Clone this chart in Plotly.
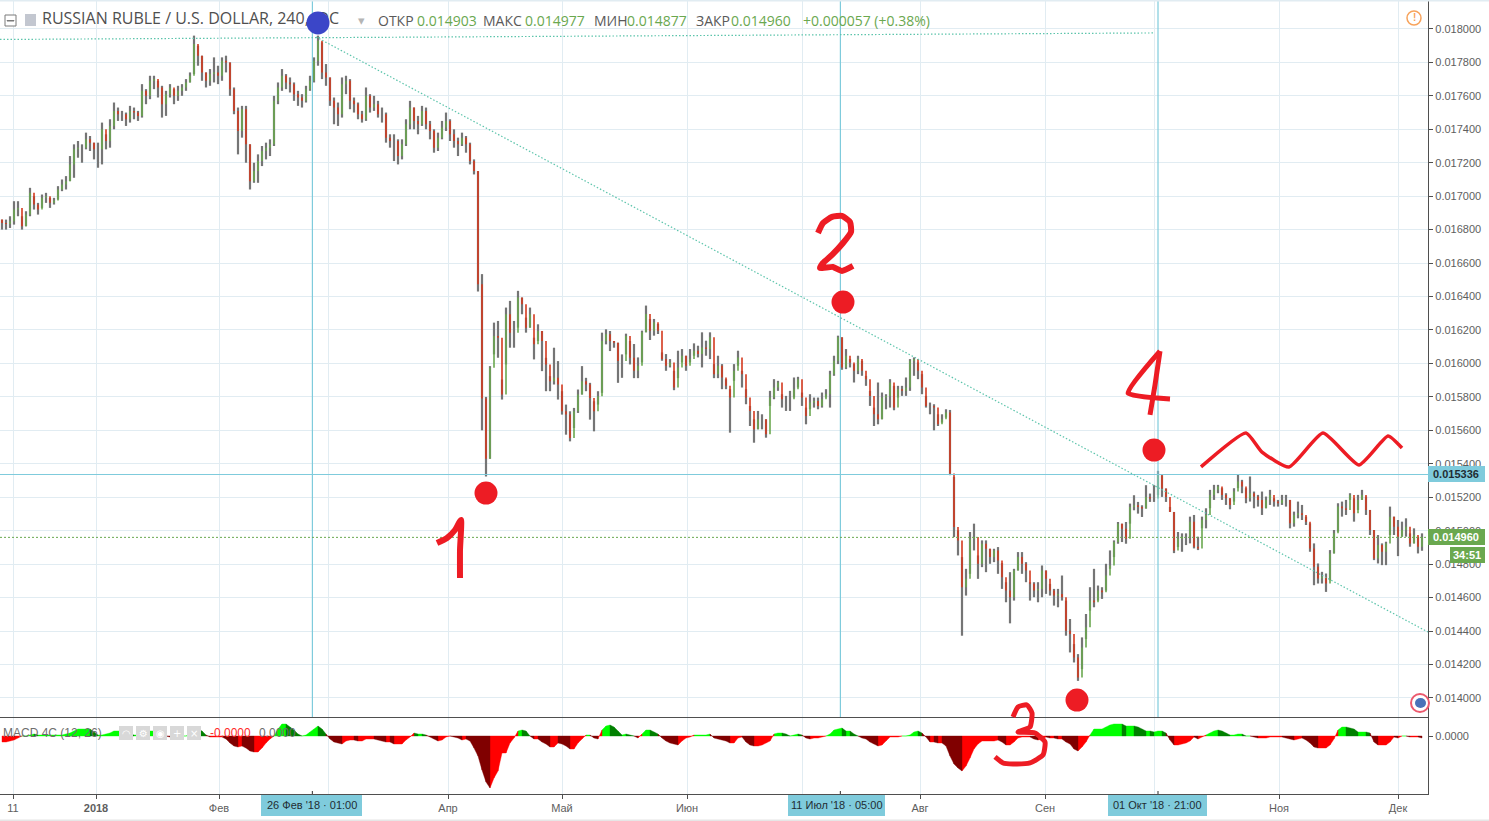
import plotly.graph_objects as go

W, H = 1489, 821
PLOT_R = 1428

# OHLC-style session data, prices in millionths of a dollar; one entry per sampled bar
closes = [
16840,16834,16850,16920,16930,16820,16890,17020,16950,16920,16990,17000,16960,16974,17040,17070,17090,17190,17280,17290,
17290,17340,17320,17280,17280,17400,17330,17420,17510,17490,17490,17460,17510,17500,17480,17630,17600,17690,17700,17650,
17550,17610,17650,17600,17630,17650,17680,17720,17910,17840,17740,17690,17730,17740,17720,17810,17800,17640,17510,17390,
17520,17310,17090,17150,17210,17270,17290,17310,17570,17650,17720,17680,17670,17610,17590,17570,17640,17690,17810,17930,
17740,17710,17570,17530,17490,17670,17690,17570,17550,17490,17460,17600,17530,17550,17490,17490,17350,17330,17330,17240,
17310,17430,17530,17450,17430,17510,17430,17390,17290,17350,17410,17450,17370,17330,17310,17350,17310,17210,17150,
16474,15790,15430,15974,16164,16154,15814,16294,16184,16184,16394,16354,16214,16294,16114,16194,16134,15994,15894,15914,
15874,15714,15694,15554,15714,15814,15894,15874,15794,15714,15804,16134,16174,16134,16124,16014,16014,16164,16034,
15956,15986,16186,16296,16196,16246,16196,16026,15986,16006,15856,15976,16046,15986,16026,16076,16056,16096,16086,16156,
15936,15986,15916,15866,15796,15956,16036,15936,15796,15716,15606,15666,15666,15576,15796,15856,15886,15786,15786,15786,
15846,15906,15796,15686,15766,15776,15746,15786,15816,15936,16016,16156,15976,16046,16006,15956,16026,15956,15906,15806,
15696,15666,15796,15806,15886,15736,15846,15836,15856,16016,16026,15956,15856,15746,15746,15736,15636,15666,15706,
15342,15022,14942,14662,14712,14952,14962,14802,14922,14892,14842,14882,14822,14722,14642,14602,14762,14842,14802,14762,
14682,14642,14652,14762,14712,14642,14612,14622,14602,14402,14382,14242,14122,14302,14422,14582,14572,14642,14632,14732,
14792,14932,15042,15012,14952,15142,15152,15142,15132,15202,15192,15192,15332,15252,15202,15112,14882,14952,
14964,14964,15054,14904,14894,15064,15094,15214,15244,15264,15214,15194,15154,15234,15294,15264,15194,15224,15204,15184,
15134,15184,15214,15174,15164,15184,15184,15044,15094,15104,15094,15054,14894,14784,14714,14724,14684,14864,14984,15144,
15134,15124,15214,15104,15184,15214,15124,15004,14834,14914,14874,14924,15084,15024,14964,15004,15024,14924,14974,14904,14960]
highs = [
16860,16860,16880,16970,16970,16880,16910,17050,17000,16960,17010,17020,16990,16990,17060,17100,17120,17240,17310,17330,
17310,17380,17360,17320,17320,17440,17370,17460,17560,17530,17510,17500,17540,17530,17510,17670,17640,17720,17720,17690,
17660,17630,17670,17640,17660,17670,17700,17740,17960,17900,17840,17740,17760,17830,17780,17830,17840,17800,17650,17530,
17540,17540,17310,17200,17250,17300,17320,17340,17600,17680,17760,17730,17710,17680,17630,17610,17660,17720,17830,17960,
17920,17790,17710,17590,17560,17710,17720,17700,17590,17560,17510,17650,17610,17600,17570,17530,17500,17370,17370,17340,
17340,17460,17570,17530,17480,17540,17530,17450,17400,17380,17450,17500,17460,17400,17350,17380,17360,17320,17220,
17150,16534,15800,15984,16244,16254,15904,16334,16374,16254,16434,16394,16274,16334,16154,16234,16194,16034,15924,16094,
16014,15834,15754,15714,15734,15844,15984,15914,15884,15774,15834,16184,16204,16194,16134,16124,16054,16178,16134,
16116,16036,16196,16346,16266,16266,16236,16066,16056,16026,15956,16076,16086,16046,16086,16120,16106,16186,16136,16186,
15996,16046,15996,15906,15846,15996,16076,15956,15846,15746,15666,15716,15696,15666,15836,15906,15896,15816,15806,15836,
15916,15920,15826,15736,15816,15796,15796,15826,15846,15956,16046,16166,16156,16086,16026,15996,16046,16016,15926,15836,
15736,15886,15826,15816,15906,15866,15866,15866,15916,16026,16036,16006,15936,15806,15766,15756,15696,15696,15726,
15722,15322,15002,14842,14772,14992,15042,14852,14942,14942,14892,14892,14902,14806,14692,14752,14772,14872,14872,14812,
14692,14692,14692,14792,14762,14682,14652,14652,14732,14582,14472,14322,14262,14362,14502,14662,14772,14672,14662,14802,
14882,14942,15052,15042,15052,15162,15212,15172,15152,15272,15222,15272,15358,15332,15252,15142,15112,14992,
14984,14984,15084,15094,14964,15084,15134,15244,15274,15274,15254,15224,15194,15254,15334,15304,15254,15324,15234,15214,
15234,15204,15244,15194,15184,15214,15214,15184,15114,15174,15154,15084,15044,14924,14804,14754,14744,14884,15004,15164,
15174,15184,15224,15194,15214,15244,15204,15124,15004,14974,14924,14934,15144,15084,15064,15054,15074,14984,15014,14964,14984]
lows = [
16800,16800,16810,16830,16880,16800,16820,16880,16920,16890,16930,16960,16930,16950,16980,17030,17040,17090,17110,17230,
17200,17280,17270,17220,17170,17190,17280,17290,17400,17450,17450,17420,17440,17460,17450,17470,17550,17580,17640,17590,
17470,17480,17590,17550,17570,17600,17630,17680,17730,17780,17690,17650,17660,17680,17670,17690,17740,17600,17490,17250,
17350,17200,17040,17080,17080,17180,17220,17240,17300,17550,17630,17640,17620,17570,17540,17530,17560,17630,17680,17780,
17700,17660,17540,17430,17420,17470,17610,17520,17500,17460,17440,17450,17500,17510,17470,17440,17320,17290,17210,17190,
17220,17300,17400,17400,17370,17420,17400,17340,17260,17270,17340,17390,17330,17290,17240,17300,17260,17190,17130,
16430,15600,15324,15430,16054,16034,15784,15994,16094,16094,16214,16294,16184,16214,16024,16134,15954,15834,15834,15874,
15784,15694,15574,15534,15614,15704,15814,15834,15664,15594,15754,15824,16114,16074,16094,15884,15914,16054,15994,
15912,15912,16006,16186,16140,16166,16176,16016,15956,15976,15840,15912,16006,15956,16006,16046,16036,15976,16046,16026,
15912,15912,15846,15846,15586,15896,15986,15856,15756,15626,15526,15606,15606,15556,15746,15786,15836,15736,15716,15716,
15796,15856,15746,15636,15726,15736,15726,15736,15796,15736,15926,15996,15962,15966,15976,15886,15936,15926,15866,15746,
15626,15636,15666,15726,15736,15720,15796,15806,15806,15836,15926,15906,15816,15736,15696,15600,15626,15646,15676,
15332,14962,14852,14372,14612,14742,14882,14712,14782,14752,14802,14812,14742,14652,14572,14446,14582,14762,14742,14692,
14582,14602,14572,14602,14622,14612,14552,14542,14582,14372,14272,14212,14102,14172,14352,14522,14542,14582,14592,14642,
14772,14842,14922,14932,14922,15042,15122,15102,15082,15132,15172,15172,15212,15202,15172,15112,14866,14902,
14874,14914,14924,14894,14884,15014,15014,15134,15184,15224,15184,15154,15128,15174,15254,15224,15164,15174,15134,15144,
15094,15134,15154,15144,15144,15154,15144,15014,15024,15074,15064,15034,14874,14674,14684,14684,14634,14704,14864,14994,
15084,15094,15184,15054,15124,15184,15094,14974,14824,14804,14794,14794,14974,14974,14848,14964,14964,14904,14924,14864,14880]
first_open = 16860

# MACD 4C histogram, in chart units (zero at the 0.0000 tick)
macd = [
-6,-6,-5,-4,-2,0,0,1,2,1,1,1,1,1,1,1,2,3,5,7,7,7,7,4,1,1,2,3,5,5,5,4,2,1,1,3,4,5,5,4,3,0,-1,0,-1,0,0,2,4,7,5,1,-1,-1,-1,-1,-3,-7,-10,-11,
-10,-12,-15,-16,-16,-12,-7,-3,0,7,12,12,9,6,2,0,1,4,7,10,7,2,-3,-6,-7,-8,-5,-4,-4,-5,-5,-3,-3,-3,-4,-5,-6,-6,-8,-8,-8,-4,-1,3,2,2,1,-1,-3,-5,-4,-1,0,-1,-2,-4,-3,-5,-12,
-20,-34,-46,-52,-42,-35,
-17,-17,-7,-2,5,6,5,0,-3,-3,-6,-8,-11,-11,-7,-8,-10,-13,-13,-7,-3,1,1,-2,-3,6,10,11,9,5,1,2,1,0,-2,2,6,6,4,2,-2,-5,-7,-8,-9,-5,-2,-1,1,1,1,1,2,-2,-3,-4,-5,-7,-7,-2,-1,-6,-9,-10,-10,-9,-7,-5,2,3,3,2,0,1,2,1,-2,-3,-2,-2,-1,0,2,6,7,8,5,5,2,0,-2,-3,-6,-8,-10,-9,-5,-1,-1,-1,0,0,1,4,5,3,-1,-6,-6,-7,-7,-10,-20,-28,-32,-35,-30,-22,-13,-8,-5,-5,-5,-5,-4,
-6,-9,-9,-6,-2,-1,-1,-1,-3,-4,-3,-1,-2,-2,-3,-3,-6,-8,-13,-15,-11,-6,1,7,7,7,9,11,12,12,12,10,10,10,9,7,5,5,4,5,5,3,-4,-9,-9,-8,-7,-5,-1,-3,-1,1,3,5,6,5,3,1,1,2,2,0,0,-1,-2,-2,-2,-1,-1,-1,-1,-2,-3,-4,-3,-2,-4,-7,-11,-12,-12,-12,-9,-3,6,9,9,8,7,4,4,4,3,-6,-9,-9,-9,-6,-1,-2,0,0,-1,-1,-1,-2]

month_ticks = [2.75, 23.5, 54.25, 81.5, 111.5, 140, 171.25, 200, 229.5, 260.75, 288, 319.25, 349]
month_labels = ["11", "<b>2018</b>", "Фев", "", "Апр", "Май", "Июн", "", "Авг", "Сен", "", "Ноя", "Дек"]
price_ticks = [14000 + 200 * k for k in range(21)]
price_labels = [f"{p/1e6:.6f}" for p in price_ticks]

bar_range = [-0.5, 356.5]
price_range = [13886, 18173]
page_price_range = [13264, 18173]
macd_range = [-58, 18]

# drawn studies
cross_bars = [77.6, 209.6, 289.0]
level_prices = [15336]
last_price = 14960
top_line_bars = [-0.5, 288.0]
top_line_prices = [17937, 17976]
trend_bars = [78.5, 356.5]
trend_prices = [17952, 14394]

# hand-drawn ink
ink_dots_bars = [121, 210.25, 288, 268.75]
ink_dots_prices = [15225, 16367, 15482, 13987]
blue_dot_bar = [79]
blue_dot_price = [18036]
digit1_bars = [108.75, 111.25, 113.25, 114.75, 114.5, 114.5]
digit1_prices = [14926, 14956, 15004, 15064, 14884, 14717]
digit2_bars = [204, 205.25, 207.5, 210, 212, 212.25, 210.25, 207.5, 205.25, 204.5, 207.75, 210, 212.75]
digit2_prices = [16780, 16840, 16876, 16882, 16846, 16786, 16720, 16649, 16601, 16571, 16577, 16553, 16583]
digit3_bars = [252.75, 254, 256.25, 257.5, 257, 254, 258.25, 260.75, 260.25, 257, 252.75, 250.25, 248.25]
digit3_prices = [13886, 13946, 13958, 13910, 13826, 13796, 13790, 13736, 13659, 13611, 13605, 13611, 13647]
digit4_bars = [289.5, 281.5, 292, None, 289.5, 288.25, 287]
digit4_prices = [16074, 15823, 15787, None, 16074, 15871, 15692]
zigzag_bars = [299.75, 311, 315, 321.75, 330.25, 339.25, 346.5, 350]
zigzag_prices = [15381, 15584, 15470, 15381, 15584, 15393, 15566, 15494]

n = len(closes)
if not (n == len(highs) == len(lows) == len(macd) == 356):
    raise SystemExit(f"lengths {n} {len(highs)} {len(lows)} {len(macd)}")

P = lambda v: None if v is None else v / 1e6
bars = list(range(n))
opens = [first_open] + closes[:-1]

wx, wy, ux, uy, dx, dy = [], [], [], [], [], []
for i in bars:
    wx += [i, i, None]
    wy += [P(highs[i]), P(lows[i]), None]
    if closes[i] >= opens[i]:
        ux += [i, i, None]
        uy += [P(opens[i]), P(closes[i]), None]
    else:
        dx += [i, i, None]
        dy += [P(opens[i]), P(closes[i]), None]

# MACD 4C: four colours by sign and direction, one filled band per step
BRIGHT_G, DARK_G, BRIGHT_R, DARK_R = "#00ff00", "#008000", "#ff0000", "#800000"
bands = {BRIGHT_G: ([], []), DARK_G: ([], []), BRIGHT_R: ([], []), DARK_R: ([], [])}
for i in range(n - 1):
    a, b = macd[i], macd[i + 1]
    if b >= 0 and a >= 0:
        c = BRIGHT_G if b >= a else DARK_G
    elif b >= a:
        c = BRIGHT_R
    else:
        c = DARK_R
    xs, ys = bands[c]
    xs += [i, i, i + 1, i + 1, i, None]
    ys += [0, a, b, 0, 0, None]

fig = go.Figure()

GRID = "#e1ecf2"
AXIS = "#4f4f4f"
TEAL = "#7fcbdc"
DOT = "#5cc4ab"
INK = "#ed1c24"
GREEN = "#6aa84f"
RED = "#d4391e"
LABEL = "#5e5e5e"
TICKFONT = dict(family="Liberation Sans", size=11, color=LABEL)

for c, (xs, ys) in bands.items():
    fig.add_trace(go.Scatter(x=xs, y=ys, mode="lines", fill="toself", fillcolor=c, line=dict(color=c, width=0.4),
                             xaxis="x", yaxis="y", hoverinfo="skip", showlegend=False))
for b in cross_bars:
    fig.add_trace(go.Scatter(x=[b, b], y=[macd_range[0], macd_range[0] + 3], mode="lines", line=dict(color=AXIS, width=1.2),
                             xaxis="x", yaxis="y", hoverinfo="skip", showlegend=False))

a2 = dict(xaxis="x2", yaxis="y2", hoverinfo="skip", showlegend=False)
a3 = dict(xaxis="x3", yaxis="y3", hoverinfo="skip", showlegend=False)
ln = lambda c, w, d="solid": dict(color=c, width=w, dash=d)

fig.add_trace(go.Scatter(x=[10], y=[18054 / 1e6], mode="text", text=["RUSSIAN RUBLE / U.S. DOLLAR, 240, IDC"],
                         textposition="middle right", cliponaxis=False,
                         textfont=dict(family="Open Sans", size=16, color="#4f4f4f"), **a2))
fig.add_trace(go.Scatter(x=wx, y=wy, mode="lines", line=ln("#757575", 2.2), **a2))
fig.add_trace(go.Scatter(x=ux, y=uy, mode="lines", line=ln(GREEN, 1.6), **a2))
fig.add_trace(go.Scatter(x=dx, y=dy, mode="lines", line=ln(RED, 1.6), **a2))

for b in cross_bars:
    fig.add_trace(go.Scatter(x=[b, b], y=[P(price_range[0]), P(price_range[1])], mode="lines", line=ln(TEAL, 1.2), **a2))
for p in level_prices:
    fig.add_trace(go.Scatter(x=bar_range, y=[P(p), P(p)], mode="lines", line=ln(TEAL, 1.2), **a2))
fig.add_trace(go.Scatter(x=bar_range, y=[P(last_price), P(last_price)], mode="lines", line=ln(GREEN, 1, "2px,2px"), **a2))
fig.add_trace(go.Scatter(x=top_line_bars, y=[P(v) for v in top_line_prices], mode="lines", line=ln(DOT, 1.2, "1.5px,2px"), **a2))
fig.add_trace(go.Scatter(x=trend_bars, y=[P(v) for v in trend_prices], mode="lines", line=ln(DOT, 1.2, "1.5px,2px"), **a2))

for xs, ys, w in [(digit1_bars, digit1_prices, 6), (digit2_bars, digit2_prices, 6),
                  (digit3_bars, digit3_prices, 5), (digit4_bars, digit4_prices, 5),
                  (zigzag_bars, zigzag_prices, 3.5)]:
    fig.add_trace(go.Scatter(x=xs, y=[P(v) for v in ys], mode="lines", cliponaxis=False,
                             line=dict(color=INK, width=w, shape="spline", smoothing=0.5), connectgaps=False, **a3))
fig.add_trace(go.Scatter(x=ink_dots_bars, y=[P(v) for v in ink_dots_prices], mode="markers", cliponaxis=False,
                         marker=dict(color=INK, size=23, line=dict(width=0)), **a3))
fig.add_trace(go.Scatter(x=blue_dot_bar, y=[P(v) for v in blue_dot_price], mode="markers", cliponaxis=False,
                         marker=dict(color="#3b46c8", size=23, line=dict(width=0)), **a3))


def xp(px):
    return px / W


def yp(py):
    return 1 - py / H


common_x = dict(range=bar_range, tickmode="array", tickvals=month_ticks, showgrid=True, gridcolor=GRID, gridwidth=1,
                zeroline=False, showline=True, linecolor=AXIS, linewidth=1.2)
fig.update_layout(
    width=W, height=H, margin=dict(l=0, r=0, t=0, b=0), paper_bgcolor="white", plot_bgcolor="rgba(0,0,0,0)",
    showlegend=False, hovermode=False,
    xaxis=dict(**common_x, domain=[0, xp(PLOT_R)], anchor="y", ticktext=month_labels, ticks="outside", ticklen=4,
               tickcolor=AXIS, tickfont=TICKFONT, showticklabels=True),
    yaxis=dict(domain=[yp(794), yp(718)], range=macd_range, side="right", anchor="x", tickmode="array",
               tickvals=[0], ticktext=["0.0000"], ticks="outside", ticklen=4, tickcolor=AXIS, tickfont=TICKFONT,
               showgrid=False, zeroline=False, showline=True, linecolor=AXIS, linewidth=1.2),
    xaxis2=dict(**common_x, domain=[0, xp(PLOT_R)], anchor="y2", ticktext=[""] * len(month_ticks), ticks="", showticklabels=False),
    yaxis2=dict(domain=[yp(717), 1], range=[P(price_range[0]), P(price_range[1])], side="right", anchor="x2",
                tickmode="array", tickvals=[P(v) for v in price_ticks], ticktext=price_labels, ticks="outside", ticklen=4,
                tickcolor=AXIS, tickfont=TICKFONT, showgrid=True, gridcolor=GRID, gridwidth=1, zeroline=False,
                showline=True, linecolor=AXIS, linewidth=1.2),
    # full-page axes on the same scale, so the ink can run across both panels
    xaxis3=dict(domain=[0, xp(PLOT_R)], range=bar_range, anchor="y3", visible=False),
    yaxis3=dict(domain=[0, 1], range=[P(page_price_range[0]), P(page_price_range[1])], anchor="x3", visible=False),
)

shapes, notes = [], []


def rect(x0, y0, x1, y1, fill, line=None):
    shapes.append(dict(type="rect", xref="paper", yref="paper", x0=xp(x0), x1=xp(x1), y0=yp(y0), y1=yp(y1),
                       fillcolor=fill, line=dict(color=line or fill, width=1 if line else 0), layer="above"))


def text(px, py, s, color, size=11, anchor="left", family="Liberation Sans"):
    notes.append(dict(xref="paper", yref="paper", x=xp(px), y=yp(py), text=s, showarrow=False, xanchor=anchor,
                      yanchor="middle", font=dict(family=family, size=size, color=color), borderpad=0, borderwidth=0))


# crosshair captions on the time axis
for x0, x1, s in [(261, 362, "26 Фев '18 · 01:00"), (788, 885, "11 Июл '18 · 05:00"), (1108, 1207, "01 Окт '18 · 21:00")]:
    rect(x0, 795, x1, 816, "#7fcbdc")
    text((x0 + x1) / 2, 805, s, "#1f2d33", 11, "center")

# price captions
rect(1428, 466, 1485, 482, "#7fcbdc")
text(1456, 474, "<b>0.015336</b>", "#1f2d33", 11, "center")
rect(1428, 529, 1485, 545, GREEN)
text(1456, 537, "<b>0.014960</b>", "white", 11, "center")
rect(1450, 547, 1485, 563, GREEN)
text(1467, 555, "<b>34:51</b>", "white", 11, "center")

# header
HF = "Open Sans"
text(378, 20, "ОТКР", "#5a5a5a", 14, family=HF)
text(417, 20, "0.014903", GREEN, 14, family=HF)
text(483, 20, "МАКС", "#5a5a5a", 14, family=HF)
text(525, 20, "0.014977", GREEN, 14, family=HF)
text(594, 20, "МИН", "#5a5a5a", 14, family=HF)
text(627, 20, "0.014877", GREEN, 14, family=HF)
text(696, 20, "ЗАКР", "#5a5a5a", 14, family=HF)
text(731, 20, "0.014960", GREEN, 14, family=HF)
text(803, 20, "+0.000057 (+0.38%)", GREEN, 14, family=HF)
text(358, 20, "▾", "#b5b5b5", 13, family="DejaVu Sans")

# header icons
rect(5, 15, 16, 26, "white", "#7a7a7a")
rect(7, 20.5, 14, 21, "#7a7a7a", "#7a7a7a")
rect(25, 14, 36, 26, "#c3c7d0")
shapes.append(dict(type="circle", xref="paper", yref="paper", x0=xp(1407), x1=xp(1421), y0=yp(11), y1=yp(25),
                   line=dict(color="#f7a35c", width=1.5), fillcolor="white", layer="above"))
text(1414, 18, "<b>!</b>", "#f7a35c", 10, "center")
shapes.append(dict(type="circle", xref="paper", yref="paper", x0=xp(1411), x1=xp(1429), y0=yp(694), y1=yp(712),
                   line=dict(color="#ec5a6e", width=2), fillcolor="white", layer="above"))
shapes.append(dict(type="circle", xref="paper", yref="paper", x0=xp(1415), x1=xp(1426), y0=yp(698), y1=yp(708),
                   line=dict(width=0), fillcolor="#4a72b8", layer="above"))

# MACD legend
text(3, 733, "MACD 4C (12, 26)", "#6e6e6e", 12)
for k, g in enumerate(["◠", "⚙", "◉", "+", "×"]):
    rect(119 + 17 * k, 726, 133 + 17 * k, 740, "#d8d8d8")
    text(126 + 17 * k, 733, g, "white", 10, "center", "DejaVu Sans")
text(210, 733, "-0.0000", "#ff2a2a", 12)
text(259, 733, "0.0000", "#6e6e6e", 12)

# page frame
rect(0, 0, W, 1.5, GRID)
rect(0, 819.5, W, 821, "#e6e6e6")

fig.update_layout(shapes=shapes, annotations=notes)
fig.write_html("out.html", config=dict(displayModeBar=False),
               post_script="document.body.style.margin='0';document.body.style.overflow='hidden';")
